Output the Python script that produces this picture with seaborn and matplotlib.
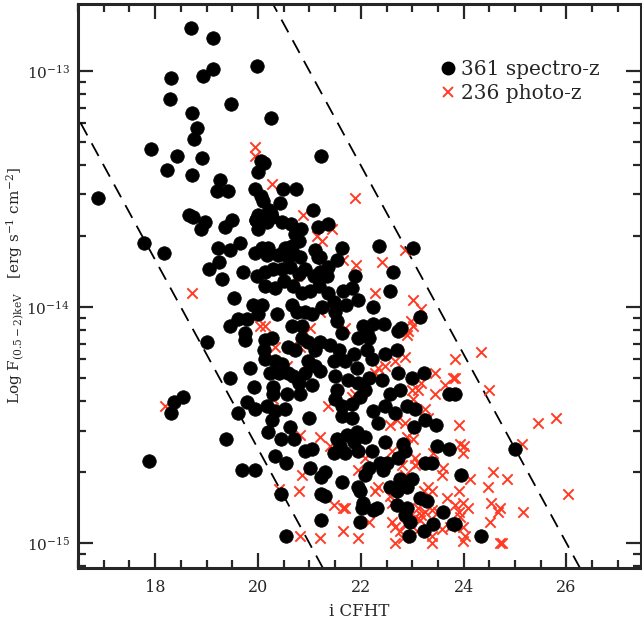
import numpy as np
import matplotlib
matplotlib.use("Agg")
import matplotlib.pyplot as plt
import seaborn as sns
from matplotlib.ticker import MultipleLocator, LogLocator, NullFormatter
from matplotlib.lines import Line2D

# spectroscopic redshift sources: i magnitude and log10 soft X-ray flux
spec_i = [
    18.70, 19.13, 19.99, 19.13, 18.94, 18.30, 18.28, 19.48, 18.72, 20.26,
    18.81, 18.76, 17.91, 18.42, 18.92, 21.23, 20.06, 20.12, 18.23, 18.72,
    20.01, 19.27, 19.20, 19.41, 19.94, 20.06, 20.09, 16.88, 20.49, 20.74,
    20.42, 21.07, 18.65, 18.74, 18.97, 18.90, 19.36, 19.50, 19.96, 20.07,
    20.25, 20.47, 20.65, 20.83, 20.01, 21.17, 21.37, 17.79, 18.18, 19.23,
    19.46, 19.66, 19.94, 20.07, 20.20, 20.39, 20.59, 20.69, 20.82, 21.11,
    21.17, 19.05, 19.24, 19.31, 19.71, 20.01, 19.97, 20.21, 20.27, 20.72,
    20.17, 20.17, 20.53, 20.66, 20.79, 20.59, 21.21, 19.98, 20.14, 20.30,
    20.47, 20.63, 20.79, 20.92, 21.08, 21.21, 21.27, 20.14, 20.34, 20.50,
    20.69, 20.85, 21.02, 21.18, 19.53, 19.91, 20.08, 20.01, 20.37, 20.66,
    20.76, 20.92, 21.05, 21.24, 19.46, 19.62, 19.79, 20.66, 20.85, 19.75,
    21.63, 21.53, 22.36, 23.02, 22.63, 21.89, 21.37, 21.34, 21.66, 21.83,
    22.56, 21.95, 21.71, 22.24, 21.37, 21.47, 21.50, 21.53, 23.15, 22.05,
    22.24, 22.46, 22.73, 22.78, 21.63, 22.12, 19.01, 19.74, 20.14, 20.27,
    20.11, 20.59, 20.72, 20.85, 20.98, 21.11, 21.21, 20.14, 20.34, 20.47,
    20.59, 20.40, 20.24, 20.69, 20.98, 21.11, 20.92, 20.79, 21.05, 21.21,
    19.84, 19.45, 19.93, 20.30, 20.30, 20.56, 20.82, 19.79, 19.95, 20.17,
    20.34, 20.52, 20.27, 19.61, 21.00, 19.37, 20.19, 20.45, 20.63, 20.71,
    20.92, 21.05, 20.34, 20.55, 19.68, 19.95, 21.02, 21.23, 21.23, 20.45,
    21.23, 20.54, 21.95, 22.15, 21.40, 21.57, 21.47, 21.70, 21.86, 21.92,
    22.12, 22.21, 22.47, 22.70, 21.50, 21.76, 21.95, 22.15, 22.41, 22.72,
    22.99, 23.22, 21.53, 21.50, 21.63, 21.83, 21.99, 22.08, 22.57, 22.76,
    23.72, 21.63, 21.83, 22.24, 22.47, 22.67, 22.34, 22.89, 23.05, 23.25,
    23.46, 23.04, 21.53, 21.73, 21.92, 22.08, 21.60, 21.86, 22.47, 22.83,
    22.86, 23.48, 23.72, 21.47, 21.70, 21.95, 22.21, 22.73, 22.37, 22.50,
    22.44, 23.25, 23.38, 22.15, 22.08, 21.63, 22.76, 22.99, 22.89, 22.57,
    22.70, 21.95, 21.99, 22.05, 22.02, 22.31, 22.24, 23.15, 23.28, 22.70,
    22.89, 22.86, 22.96, 23.60, 23.80, 23.41, 23.22, 22.94, 21.99, 21.31,
    21.31, 23.83, 25.00, 23.95, 23.83, 24.34, 18.30, 18.36, 18.54, 17.89,
]
spec_logf = [
    -12.82, -12.86, -12.98, -12.99, -13.02, -13.03, -13.12, -13.14, -13.18, -13.20,
    -13.24, -13.29, -13.33, -13.36, -13.37, -13.36, -13.38, -13.39, -13.42, -13.44,
    -13.43, -13.46, -13.51, -13.51, -13.50, -13.53, -13.55, -13.54, -13.50, -13.50,
    -13.56, -13.59, -13.61, -13.62, -13.64, -13.67, -13.66, -13.63, -13.63, -13.62,
    -13.60, -13.64, -13.65, -13.67, -13.67, -13.66, -13.65, -13.73, -13.77, -13.75,
    -13.76, -13.73, -13.77, -13.75, -13.75, -13.78, -13.75, -13.77, -13.79, -13.76,
    -13.79, -13.84, -13.81, -13.88, -13.85, -13.61, -13.63, -13.59, -13.62, -13.69,
    -13.64, -13.78, -13.75, -13.74, -13.72, -13.79, -13.79, -13.87, -13.85, -13.84,
    -13.84, -13.83, -13.86, -13.84, -13.87, -13.85, -13.87, -13.91, -13.92, -13.89,
    -13.91, -13.94, -13.93, -13.91, -13.96, -13.99, -13.99, -14.03, -14.03, -13.99,
    -14.02, -14.02, -14.03, -14.00, -14.08, -14.05, -14.05, -14.08, -14.08, -14.11,
    -13.75, -13.80, -13.74, -13.75, -13.85, -13.87, -13.83, -13.87, -13.93, -13.92,
    -13.93, -13.97, -13.99, -14.00, -13.94, -13.98, -14.02, -14.06, -14.04, -14.08,
    -14.07, -14.07, -14.10, -14.09, -14.11, -14.11, -14.15, -14.14, -14.14, -14.13,
    -14.18, -14.17, -14.18, -14.13, -14.15, -14.18, -14.15, -14.22, -14.23, -14.24,
    -14.28, -14.28, -14.28, -14.29, -14.23, -14.25, -14.28, -14.32, -14.33, -14.27,
    -14.26, -14.30, -14.34, -14.34, -14.37, -14.37, -14.37, -14.40, -14.43, -14.42,
    -14.44, -14.43, -14.48, -14.45, -14.47, -14.56, -14.53, -14.56, -14.51, -14.56,
    -14.61, -14.60, -14.63, -14.66, -14.69, -14.69, -14.68, -14.72, -14.79, -14.79,
    -14.90, -14.97, -14.13, -14.13, -14.16, -14.18, -14.23, -14.23, -14.20, -14.26,
    -14.18, -14.22, -14.20, -14.18, -14.29, -14.31, -14.32, -14.30, -14.31, -14.28,
    -14.30, -14.28, -14.35, -14.39, -14.42, -14.41, -14.38, -14.35, -14.37, -14.35,
    -14.37, -14.46, -14.47, -14.44, -14.42, -14.45, -14.49, -14.42, -14.43, -14.48,
    -14.50, -14.51, -14.56, -14.54, -14.53, -14.55, -14.59, -14.57, -14.57, -14.58,
    -14.61, -14.59, -14.60, -14.62, -14.62, -14.61, -14.61, -14.64, -14.66, -14.66,
    -14.69, -14.66, -14.66, -14.68, -14.71, -14.74, -14.73, -14.73, -14.76, -14.76,
    -14.78, -14.76, -14.78, -14.83, -14.85, -14.85, -14.86, -14.81, -14.82, -14.84,
    -14.85, -14.88, -14.91, -14.87, -14.92, -14.92, -14.95, -14.97, -14.91, -14.70,
    -14.80, -14.37, -14.60, -14.71, -14.92, -14.97, -14.45, -14.40, -14.38, -14.65,
]

# photometric redshift sources
phot_i = [
    19.94, 19.95, 20.28, 20.87, 21.15, 21.24, 18.71, 21.24, 20.76, 20.04,
    20.14, 21.02, 21.21, 21.89, 21.44, 21.66, 21.90, 22.42, 22.85, 22.28,
    23.02, 23.18, 22.98, 23.02, 22.92, 21.34, 21.70, 20.34, 20.81, 20.56,
    20.30, 20.81, 21.21, 20.85, 20.40, 20.79, 20.82, 21.21, 22.89, 22.86,
    22.67, 22.47, 22.34, 22.28, 23.44, 23.64, 23.80, 23.18, 22.99, 23.12,
    23.44, 23.02, 23.25, 23.31, 21.83, 21.89, 22.57, 22.86, 22.70, 23.02,
    22.89, 21.37, 21.40, 22.08, 21.95, 22.60, 23.05, 23.12, 23.05, 23.41,
    23.60, 23.57, 22.80, 22.86, 22.34, 22.28, 23.31, 23.38, 23.22, 23.67,
    21.47, 21.70, 21.66, 22.60, 22.57, 23.12, 23.25, 23.18, 23.05, 23.38,
    23.51, 23.15, 22.15, 22.60, 22.67, 22.76, 22.86, 21.66, 21.95, 22.67,
    22.83, 23.38, 23.38, 23.57, 23.73, 23.09, 24.34, 24.49, 23.83, 23.83,
    25.45, 25.79, 23.91, 25.13, 23.93, 24.01, 23.99, 24.57, 24.12, 24.48,
    24.85, 23.91, 26.03, 23.99, 24.09, 23.83, 23.90, 24.54, 24.70, 24.67,
    25.15, 23.93, 24.51, 23.99, 24.03, 23.99, 24.70, 24.74, 18.20,
]
phot_logf = [
    -13.32, -13.36, -13.48, -13.61, -13.70, -13.72, -13.94, -13.83, -13.87, -14.08,
    -14.08, -14.09, -14.02, -13.54, -13.67, -13.80, -13.82, -13.81, -13.76, -13.94,
    -13.97, -14.01, -14.06, -14.08, -14.10, -14.01, -14.09, -14.17, -14.17, -14.25,
    -14.39, -14.54, -14.55, -14.71, -14.77, -14.78, -14.97, -14.98, -14.12, -14.21,
    -14.23, -14.25, -14.26, -14.28, -14.28, -14.33, -14.30, -14.32, -14.35, -14.35,
    -14.37, -14.39, -14.43, -14.47, -14.38, -14.37, -14.50, -14.49, -14.48, -14.56,
    -14.55, -14.42, -14.59, -14.64, -14.69, -14.61, -14.64, -14.66, -14.67, -14.62,
    -14.68, -14.71, -14.67, -14.71, -14.76, -14.78, -14.76, -14.78, -14.78, -14.81,
    -14.84, -14.85, -14.85, -14.83, -14.80, -14.85, -14.87, -14.88, -14.89, -14.86,
    -14.87, -14.90, -14.91, -14.91, -14.93, -14.95, -14.92, -14.95, -14.98, -15.00,
    -14.98, -14.97, -15.00, -14.94, -14.93, -14.95, -14.19, -14.35, -14.22, -14.30,
    -14.49, -14.47, -14.50, -14.58, -14.58, -14.59, -14.62, -14.70, -14.73, -14.76,
    -14.73, -14.78, -14.79, -14.83, -14.85, -14.84, -14.87, -14.83, -14.85, -14.87,
    -14.87, -14.89, -14.91, -14.93, -14.97, -14.99, -15.00, -15.00, -14.42,
]

# X/O = 10 and X/O = 0.1 loci: log f = -i/2.5 + offset
xo_offsets = [-4.6, -6.6]
line_i = np.array([15.0, 28.0])

RED = "#ff3b24"

sns.set_style("ticks")
plt.rcParams["font.family"] = ["DejaVu Serif"]
plt.rcParams["mathtext.fontset"] = "dejavuserif"

fig = plt.figure(figsize=(6.42, 6.19), dpi=100)
ax = fig.add_axes([0.1215, 0.0824, 0.877, 0.911])

spec = {"i": spec_i, "f": 10 ** np.array(spec_logf)}
phot = {"i": phot_i, "f": 10 ** np.array(phot_logf)}

sns.scatterplot(x="i", y="f", data=phot, marker="x", color=RED, s=55,
                linewidth=1.4, ax=ax, zorder=2)
sns.scatterplot(x="i", y="f", data=spec, marker="o", color="black", s=95,
                edgecolor="black", linewidth=0.5, ax=ax, zorder=3)

for off in xo_offsets:
    ax.plot(line_i, 10 ** (-line_i / 2.5 + off), color="black", lw=1.3,
            dashes=(8, 5), zorder=1)

ax.set_yscale("log")
ax.set_xlim(16.5, 27.45)
ax.set_ylim(7.85e-16, 1.92e-13)

ax.xaxis.set_major_locator(MultipleLocator(2))
ax.xaxis.set_minor_locator(MultipleLocator(0.5))
ax.yaxis.set_major_locator(LogLocator(base=10, numticks=10))
ax.yaxis.set_minor_locator(LogLocator(base=10, subs=np.arange(2, 10), numticks=10))
ax.yaxis.set_minor_formatter(NullFormatter())

ax.tick_params(which="both", direction="in", top=True, right=True,
               labelsize=11, width=1.6)
ax.tick_params(axis="x", pad=8, labelsize=11.5)
ax.tick_params(axis="y", pad=6)
ax.tick_params(which="major", length=11)
ax.tick_params(which="minor", length=6)
for sp in ax.spines.values():
    sp.set_linewidth(2.2)

ax.set_xlabel("i CFHT", fontsize=12)
ax.xaxis.set_label_coords(0.5, -0.062)
ax.set_ylabel(r"Log F$_{\mathrm{(0.5-2)keV}}$   [erg s$^{-1}$ cm$^{-2}$]",
              fontsize=11)
# ylabel anchor is the right edge of the rotated text
ax.yaxis.set_label_coords(-0.093, 0.5)

handles = [
    Line2D([], [], marker="o", color="black", ls="none", markersize=9),
    Line2D([], [], marker="x", color=RED, ls="none", markersize=7, mew=1.4),
]
ax.legend(handles, ["361 spectro-z", "236 photo-z"], loc="upper left",
          bbox_to_anchor=(0.622, 0.918), frameon=False, fontsize=14.5,
          handletextpad=0.15, handlelength=1.0, labelspacing=0.25,
          borderpad=0)

fig.savefig("out.png", dpi=100)
